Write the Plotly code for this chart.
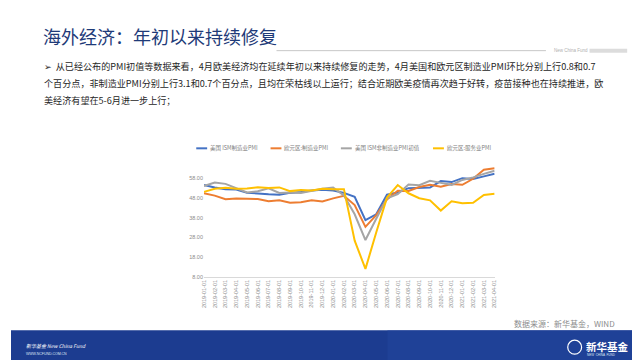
import plotly.graph_objects as go

months = [f"{y}-{m:02d}-01" for y, m in
          [(2019, i) for i in range(1, 13)] + [(2020, i) for i in range(1, 13)] + [(2021, i) for i in range(1, 5)]]

series_names = ["美国 ISM制造业PMI", "欧元区:制造业PMI", "美国 ISM非制造业PMI初值", "欧元区:服务业PMI"]
series_colors = ["#4472C4", "#ED7D31", "#A5A5A5", "#FFC000"]

us_mfg = [54.7, 53.4, 52.5, 52.4, 50.8, 50.3, 50.0, 49.8, 50.7, 51.1, 51.9, 52.3,
          51.9, 50.7, 48.7, 36.8, 39.8, 49.8, 50.9, 53.1, 53.2, 53.4, 56.7, 56.2,
          58.2, 57.8, 59.1, 60.4]
eu_mfg = [50.5, 49.3, 47.5, 47.9, 47.7, 47.6, 46.5, 47.0, 45.7, 45.9, 46.9, 46.3,
          47.9, 49.2, 44.5, 33.4, 39.4, 47.4, 51.8, 51.7, 53.7, 54.8, 53.8, 55.2,
          54.8, 57.9, 62.5, 63.3]
us_nonmfg = [54.2, 56.0, 55.3, 53.0, 50.9, 51.5, 53.0, 50.7, 50.9, 50.6, 51.6, 52.8,
             53.4, 49.4, 39.8, 26.7, 37.5, 47.9, 50.0, 55.0, 54.6, 56.9, 55.8, 54.8,
             57.3, 58.6, 60.4, 62.0]
eu_serv = [51.2, 52.8, 53.3, 52.8, 52.9, 53.6, 53.2, 53.5, 51.6, 52.2, 51.9, 52.8,
           52.5, 52.6, 26.4, 12.0, 30.5, 48.3, 54.7, 50.5, 48.0, 46.9, 41.7, 46.4,
           45.4, 45.7, 49.6, 50.3]
all_series = [us_mfg, eu_mfg, us_nonmfg, eu_serv]

y_ticks = [8, 18, 28, 38, 48, 58]

title_text = "海外经济：年初以来持续修复"
body_lines = [
    "➢  从已经公布的PMI初值等数据来看，4月欧美经济均在延续年初以来持续修复的走势，4月美国和欧元区制造业PMI环比分别上行0.8和0.7",
    "个百分点，非制造业PMI分别上行3.1和0.7个百分点，且均在荣枯线以上运行；结合近期欧美疫情再次趋于好转，疫苗接种也在持续推进，欧",
    "美经济有望在5-6月进一步上行；",
]
source_text = "数据来源：新华基金，WIND"

W, H = 640, 360
def px(x): return x / W
def py(y): return 1 - y / H

fig = go.Figure()
for name, vals, col in zip(series_names, all_series, series_colors):
    fig.add_trace(go.Scatter(x=months, y=vals, mode="lines", name=name,
                             line=dict(color=col, width=2), showlegend=False))

CJK = "Noto Sans CJK SC, DejaVu Sans, sans-serif"
annotations = []
shapes = []

# title
annotations.append(dict(text=title_text, x=px(30), y=py(28), xref="paper", yref="paper",
                        xanchor="left", yanchor="middle", showarrow=False,
                        font=dict(family=CJK, size=18, color="#1e3a78")))
shapes.append(dict(type="line", xref="paper", yref="paper", x0=px(268), x1=px(540),
                   y0=py(43), y1=py(43), line=dict(color="#c8c8c8", width=1)))
annotations.append(dict(text="New China Fund", x=px(546), y=py(43), xref="paper", yref="paper",
                        xanchor="left", yanchor="middle", showarrow=False,
                        font=dict(family="Liberation Sans", size=4.5, color="#b0b0b0")))
shapes.append(dict(type="rect", xref="paper", yref="paper", x0=px(584), x1=px(622),
                   y0=py(45), y1=py(41), fillcolor="#dcdcdc", line=dict(width=0)))

# body text
for i, line in enumerate(body_lines):
    annotations.append(dict(text=line, x=px(31), y=py(58 + 17.5 * i), xref="paper", yref="paper",
                            xanchor="left", yanchor="middle", showarrow=False,
                            font=dict(family=CJK, size=9.1, color="#262626")))

# legend (manual)
leg_x = [187, 262, 333, 426]
for name, col, lx in zip(series_names, series_colors, leg_x):
    shapes.append(dict(type="line", xref="paper", yref="paper", x0=px(lx), x1=px(lx + 11),
                       y0=py(141.5), y1=py(141.5), line=dict(color=col, width=2)))
    annotations.append(dict(text=name, x=px(lx + 12), y=py(141.5), xref="paper", yref="paper",
                            xanchor="left", yanchor="middle", showarrow=False,
                            font=dict(family=CJK, size=5.5, color="#7f7f7f")))

# source
annotations.append(dict(text=source_text, x=px(612), y=py(318), xref="paper", yref="paper",
                        xanchor="right", yanchor="middle", showarrow=False,
                        font=dict(family=CJK, size=8, color="#8c8c8c")))

# footer
shapes.append(dict(type="rect", xref="paper", yref="paper", x0=0, x1=1, y0=0, y1=py(325),
                   fillcolor="#1c3c90", line=dict(width=0), layer="below"))
shapes.append(dict(type="rect", xref="paper", yref="paper", x0=px(380), x1=1, y0=0, y1=py(325),
                   fillcolor="#22459c", opacity=0.6, line=dict(width=0), layer="below"))
annotations.append(dict(text="<i>新华基金 New China Fund</i>", x=px(13), y=py(340), xref="paper", yref="paper",
                        xanchor="left", yanchor="middle", showarrow=False,
                        font=dict(family=CJK, size=5, color="#ffffff")))
annotations.append(dict(text="WWW.NCFUND.COM.CN", x=px(13), y=py(349), xref="paper", yref="paper",
                        xanchor="left", yanchor="middle", showarrow=False,
                        font=dict(family="Liberation Sans", size=3.5, color="#dfe6f5")))
shapes.append(dict(type="line", xref="paper", yref="paper", x0=px(16), x1=px(27),
                   y0=py(356), y1=py(356), line=dict(color="#ffffff", width=1)))
shapes.append(dict(type="circle", xref="paper", yref="paper", x0=px(562), x1=px(576),
                   y0=py(349), y1=py(335), line=dict(color="#ffffff", width=1.2)))
annotations.append(dict(text="<b>新华基金</b>", x=px(578), y=py(341), xref="paper", yref="paper",
                        xanchor="left", yanchor="middle", showarrow=False,
                        font=dict(family=CJK, size=10.5, color="#ffffff")))
annotations.append(dict(text="NEW  CHINA  FUND", x=px(579), y=py(350), xref="paper", yref="paper",
                        xanchor="left", yanchor="middle", showarrow=False,
                        font=dict(family="Liberation Sans", size=3, color="#dfe6f5")))

fig.update_layout(
    width=W, height=H, margin=dict(l=0, r=0, t=0, b=0),
    paper_bgcolor="white", plot_bgcolor="white",
    annotations=annotations, shapes=shapes, showlegend=False,
    xaxis=dict(domain=[px(194.8), px(488.2)], type="category", tickangle=-90,
               tickfont=dict(family="Liberation Sans", size=5.5, color="#8c8c8c"),
               showgrid=False, showline=True, linecolor="#d9d9d9", linewidth=1,
               ticks="", zeroline=False),
    yaxis=dict(domain=[py(271), py(160.1)], range=[8, 64], tickvals=y_ticks, tickformat=".2f",
               tickfont=dict(family="Liberation Sans", size=5.5, color="#8c8c8c"),
               showgrid=False, showline=False, zeroline=False, ticks=""),
)

fig.write_html("out.html")
